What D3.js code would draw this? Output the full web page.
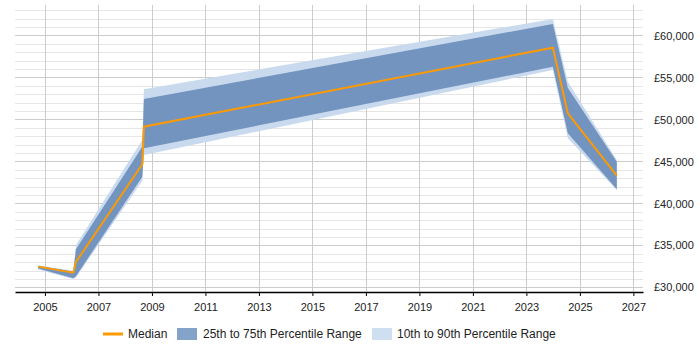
<!DOCTYPE html>
<html>
<head>
<meta charset="utf-8">
<script src="https://cdn.jsdelivr.net/npm/d3@7"></script>
<style>
  body { margin: 0; background: #fff; }
  text { font-family: "Liberation Sans", Arial, sans-serif; font-size: 11px; fill: #222; }
</style>
</head>
<body>
<div class="chart"></div>
<script>
// data (decimal year)
const years  = [2004.75, 2006.06, 2006.16, 2008.64, 2008.70, 2023.99, 2024.55, 2026.38];
const median = [32480, 31760, 33040, 44670, 49140, 58550, 50740, 43310];
const p25    = [32250, 31100, 31350, 43190, 46570, 56280, 48350, 41690];
const p75    = [32550, 31900, 34550, 46760, 52440, 61370, 53750, 44980];
const p10    = [32150, 31000, 31200, 42700, 45770, 55890, 47760, 41610];
const p90    = [32650, 32000, 35060, 47560, 53600, 61970, 54500, 45180];
const xTicks = [2005, 2007, 2009, 2011, 2013, 2015, 2017, 2019, 2021, 2023, 2025, 2027];
const yTicks = [30000, 35000, 40000, 45000, 50000, 55000, 60000];

const data = years.map((y, i) => ({
  year: y, med: median[i], q1: p25[i], q3: p75[i], lo: p10[i], hi: p90[i]
}));

const width = 700, height = 350;
const margin = ({top: 5, right: 57, bottom: 58, left: 15});

const svg = d3.select('.chart')
  .append('svg')
  .attr('width', width)
  .attr('height', height);

const xScale = d3.scaleLinear()
  .domain([2003.88, 2027.36])
  .range([margin.left, width - margin.right]);

const yScale = d3.scaleLinear()
  .domain([29460, 63630])
  .range([height - margin.bottom, margin.top]);

// grid
const grid = svg.append('g');
grid.selectAll('.minor')
  .data(d3.range(30000, 63001, 1000).filter(v => v % 5000 !== 0))
  .join('line')
  .attr('x1', margin.left).attr('x2', width - margin.right)
  .attr('y1', d => Math.round(yScale(d)) + 0.5).attr('y2', d => Math.round(yScale(d)) + 0.5)
  .attr('stroke', '#e6e6e6');
grid.selectAll('.major')
  .data(yTicks)
  .join('line')
  .attr('x1', margin.left).attr('x2', width - margin.right)
  .attr('y1', d => Math.round(yScale(d)) + 0.5).attr('y2', d => Math.round(yScale(d)) + 0.5)
  .attr('stroke', '#cccccc');
grid.selectAll('.vert')
  .data(xTicks)
  .join('line')
  .attr('x1', d => Math.round(xScale(d)) + 0.5).attr('x2', d => Math.round(xScale(d)) + 0.5)
  .attr('y1', margin.top).attr('y2', height - margin.bottom)
  .attr('stroke', '#cccccc');

// bands
const area = (lo, hi) => d3.area()
  .x(d => xScale(d.year))
  .y0(d => yScale(d[lo]))
  .y1(d => yScale(d[hi]));

svg.append('path')
  .datum(data)
  .attr('fill', '#c9daee')
  .attr('d', area('lo', 'hi'));

svg.append('path')
  .datum(data)
  .attr('fill', '#7294bf')
  .attr('d', area('q1', 'q3'));

svg.append('path')
  .datum(data)
  .attr('fill', 'none')
  .attr('stroke', '#ff9900')
  .attr('stroke-width', 2)
  .attr('d', d3.line().x(d => xScale(d.year)).y(d => yScale(d.med)));

// axes
const xAxis = d3.axisBottom(xScale)
  .tickValues(xTicks)
  .tickFormat(d3.format('d'))
  .tickSize(4)
  .tickSizeOuter(0);

svg.append('g')
  .attr('transform', `translate(0, ${height - margin.bottom})`)
  .call(xAxis)
  .call(g => g.select('.domain').attr('stroke', '#000').attr('stroke-width', 1.5))
  .call(g => g.selectAll('.tick line').attr('stroke', '#000'))
  .call(g => g.selectAll('.tick text').attr('dy', '1.1em').style('font-size', '11px').attr('fill', '#222'));

const yAxis = d3.axisRight(yScale)
  .tickValues(yTicks)
  .tickFormat(d => '£' + d3.format(',')(d))
  .tickSize(0);

svg.append('g')
  .attr('transform', `translate(${width - margin.right + 8}, 0)`)
  .call(yAxis)
  .call(g => g.select('.domain').remove())
  .call(g => g.selectAll('.tick text').style('font-size', '11px').attr('fill', '#222'));

// legend
const legend = svg.append('g').attr('transform', 'translate(0, 334)');
legend.append('line')
  .attr('x1', 103).attr('x2', 123).attr('y1', 0).attr('y2', 0)
  .attr('stroke', '#ff9900').attr('stroke-width', 3);
legend.append('text').attr('x', 128).attr('y', 4).style('font-size', '12px').text('Median');
legend.append('rect')
  .attr('x', 177).attr('y', -6).attr('width', 20).attr('height', 12)
  .attr('fill', '#84a3c8');
legend.append('text').attr('x', 203).attr('y', 4).style('font-size', '12px').text('25th to 75th Percentile Range');
legend.append('rect')
  .attr('x', 372).attr('y', -6).attr('width', 20).attr('height', 12)
  .attr('fill', '#cddff0');
legend.append('text').attr('x', 397).attr('y', 4).style('font-size', '12px').text('10th to 90th Percentile Range');
</script>
</body>
</html>
